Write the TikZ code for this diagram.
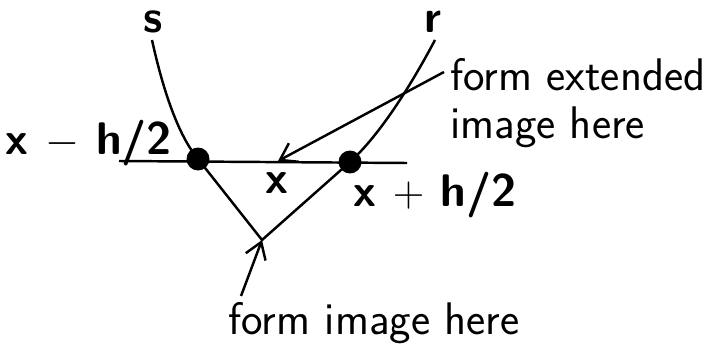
\documentclass[tikz,border=0pt]{standalone}
\usepackage{tikz}
\usetikzlibrary{positioning,arrows.meta}

\begin{document}
\begin{tikzpicture}[
x=0.02cm,y=-0.02cm,
>={Straight Barb[length=9pt,width=12pt]},
every node/.style={font=\fontsize{26}{27}\selectfont\sffamily},
lbl/.style={font=\fontsize{26}{27}\selectfont\sffamily\bfseries},
dot/.style={circle,fill=black,inner sep=0pt,minimum size=0.46cm},
ray/.style={line width=1.4pt},
arrow/.style={->,line width=1.4pt}
]
\useasboundingbox (0,0) rectangle (705,348);

% Points on the line
\node[dot] (ldot) at (198,159) {};
\node[dot] (rdot) at (350,162) {};
\coordinate (lend) at (119,161);
\coordinate (rend) at (407,163);
\coordinate (xpt) at (278,161);
\coordinate (apex) at (262,240);

% Ray ends
\coordinate (stop) at (152,40);
\coordinate (rtop) at (435,40);
\coordinate (etail) at (444,72);
\coordinate (itail) at (241,296);

% Labels
\node[lbl,anchor=base,inner sep=0pt] (slbl) at (153,33) {s};
\node[lbl,anchor=base,inner sep=0pt] (rlbl) at (433,33) {r};
\node[lbl] (xmlbl) at (89,143) {x $-$ h/2};
\node[lbl] (xlbl) at (277,183) {x};
\node[lbl] (xplbl) at (435,195) {x $+$ h/2};
\node[align=left,anchor=west] (extlbl) at (444,103) {form extended\\image here};
\node (imglbl) at (374,323) {form image here};

% Rays
\draw[ray] (lend)--(rend);
\draw[ray] (stop) .. controls (163,90) and (178,135) .. (ldot.center);
\draw[ray] (rtop) .. controls (418,72) and (385,130) .. (rdot.center);
\draw[ray] (ldot.center)--(apex)--(rdot.center);

% Arrows
\draw[arrow] (etail)--(xpt);
\draw[arrow] (itail)--(apex);

\end{tikzpicture}
\end{document}
